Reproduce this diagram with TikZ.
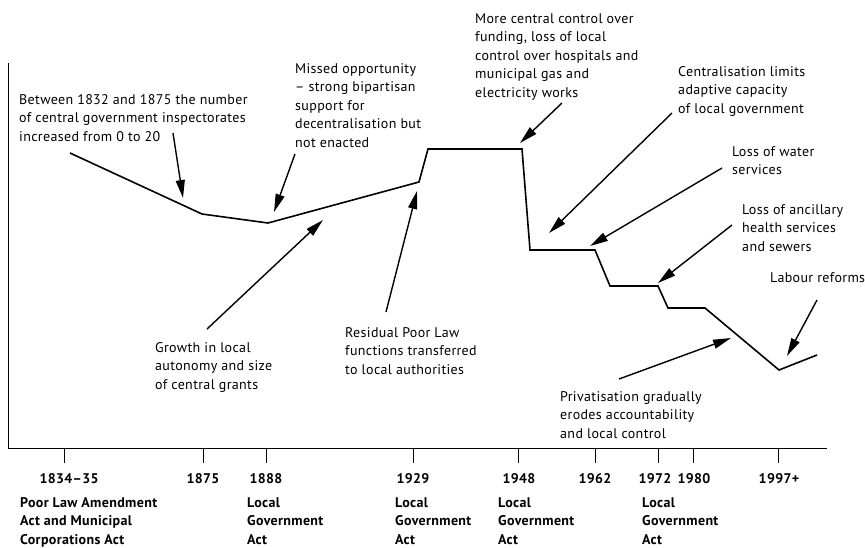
\documentclass[tikz,border=0pt]{standalone}
\usepackage{fontspec}
\setmainfont[LetterSpace=2.5]{PT Sans}
\usetikzlibrary{arrows.meta}

\tikzset{
  note/.style={anchor=north west, align=left, inner sep=0pt, font=\fontsize{14}{18.5}\selectfont},
  act/.style={note, font=\fontsize{14}{18.5}\selectfont\bfseries},
  yearlabel/.style={anchor=base, inner sep=0pt, font=\fontsize{14}{18.5}\selectfont\bfseries},
  trend/.style={line width=1.6pt, line join=miter},
  pointer/.style={-{Triangle[length=18pt,width=9pt]}, line width=1.4pt},
}

\begin{document}
\begin{tikzpicture}[x=1pt, y=-1pt]

    \useasboundingbox (0,0) rectangle (865,547);

    % Axes and year ticks
    \draw[line width=0.9pt] (8,63) -- (8,448) -- (827,448);
    \foreach \x/\lx/\yr in {64/69/1834--35, 203/203/1875, 266/266/1888, 413/413/1929,
                             518/519/1948, 595/595/1962, 658/655/1972, 693/694/1980, 778/779/1997+} {
        \draw[line width=0.9pt] (\x,448) -- (\x,463);
        \node[yearlabel] (year\yr) at (\lx,483) {\yr};
    }

    % Acts below the years
    \node[act] (act1834) at (20,497) {Poor Law Amendment\\Act and Municipal\\Corporations Act};
    \node[act] (act1888) at (247,497) {Local\\Government\\Act};
    \node[act] (act1929) at (395,497) {Local\\Government\\Act};
    \node[act] (act1948) at (498,497) {Local\\Government\\Act};
    \node[act] (act1972) at (642,497) {Local\\Government\\Act};

    % Points of the trend line
    \coordinate (p0) at (70,153);
    \coordinate (p1) at (202,214);
    \coordinate (p2) at (268,223);
    \coordinate (p3) at (419,182);
    \coordinate (p4) at (428,149);
    \coordinate (p5) at (522,149);
    \coordinate (p6) at (530,250);
    \coordinate (p7) at (595,250);
    \coordinate (p8) at (610,286);
    \coordinate (p9) at (658,286);
    \coordinate (p10) at (668,308);
    \coordinate (p11) at (705,308);
    \coordinate (p12) at (779,370);
    \coordinate (p13) at (817,355);
    \draw[trend] (p0) -- (p1) -- (p2) -- (p3) -- (p4) -- (p5) -- (p6) -- (p7)
        -- (p8) -- (p9) -- (p10) -- (p11) -- (p12) -- (p13);

    % Notes
    \node[note] (inspect) at (19,94) {Between 1832 and 1875 the number\\of central government inspectorates\\increased from 0 to 20};
    \node[note] (missed) at (295,63) {Missed opportunity\\-- strong bipartisan\\support for\\decentralisation but\\not enacted};
    \node[note] (control) at (475,13) {More central control over\\funding, loss of local\\control over hospitals and\\municipal gas and\\electricity works};
    \node[note] (central) at (678,66) {Centralisation limits\\adaptive capacity\\of local government};
    \node[note] (water) at (732,146) {Loss of water\\services};
    \node[note] (health) at (742,204) {Loss of ancillary\\health services\\and sewers};
    \node[note] (labour) at (770,272) {Labour reforms};
    \node[note] (privat) at (560,391) {Privatisation gradually\\erodes accountability\\and local control};
    \node[note] (growth) at (155,342) {Growth in local\\autonomy and size\\of central grants};
    \node[note] (residual) at (345,327) {Residual Poor Law\\functions transferred\\to local authorities};

    % Arrow ends
    \coordinate (inspect-from) at (173,133);   \coordinate (inspect-to) at (183,198);
    \coordinate (missed-from) at (295,154);    \coordinate (missed-to) at (274,212);
    \coordinate (growth-from) at (207,329);    \coordinate (growth-to) at (323,220);
    \coordinate (residual-from) at (386,312);  \coordinate (residual-to) at (417,191);
    \coordinate (control-from) at (562,103);   \coordinate (control-to) at (520,143);
    \coordinate (central-from) at (672,113);   \coordinate (central-to) at (549,233);
    \coordinate (water-from) at (722,168);     \coordinate (water-to) at (590,246);
    \coordinate (health-from) at (732,225);    \coordinate (health-to) at (658,283);
    \coordinate (privat-from) at (619,379);    \coordinate (privat-to) at (731,338);
    \coordinate (labour-from) at (817,300);    \coordinate (labour-to) at (787,356);

    \foreach \n in {inspect, missed, growth, residual, control, central, water, health, privat, labour}
        \draw[pointer] (\n-from) -- (\n-to);

\end{tikzpicture}
\end{document}
